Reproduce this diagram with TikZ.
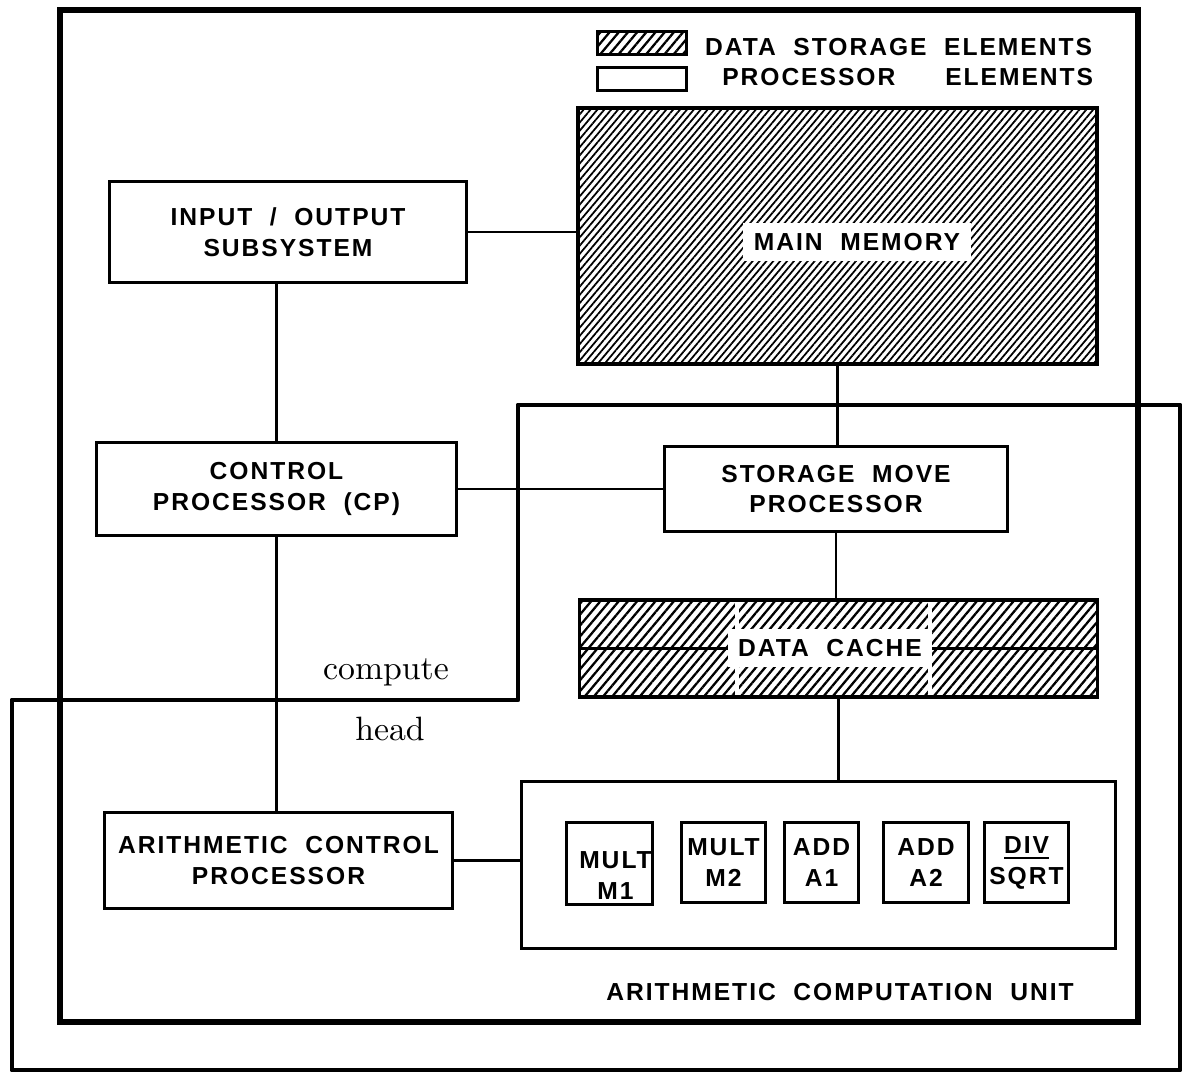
\documentclass[tikz,border=0pt]{standalone}
\usepackage{fontspec}
\usepackage{tikz}
\usetikzlibrary{positioning,patterns.meta}
\newfontfamily\blockfont[LetterSpace=8,WordSpace=2.0]{Liberation Sans}

\tikzset{
  unitfont/.style={font=\blockfont\bfseries\fontsize{7}{8.8}\selectfont, inner sep=0pt},
  procbox/.style={draw, line width=0.85pt, unitfont, align=center},
  storebox/.style={draw, line width=1.3pt, pattern={Lines[angle=50,distance=1.5pt,line width=0.5pt]}},
  cachebox/.style={draw, line width=0.9pt, pattern={Lines[angle=50,distance=2pt,line width=0.65pt]}},
  wire/.style={line width=0.6pt},
  frame/.style={line width=1.7pt},
}

\begin{document}
\begin{tikzpicture}[x=0.01cm, y=-0.01cm]
\useasboundingbox (0,0) rectangle (1188,1076);

% the two region outlines
\draw[frame] (60,10) rectangle (1138,1022);
\draw[line width=1.4pt, line join=round] (518,405) -- (1180,405) -- (1180,1070) -- (12,1070) -- (12,700) -- (518,700) -- cycle;

% legend
\node[cachebox, line width=0.85pt, minimum width=0.88cm, minimum height=0.14cm] (legdata) at (642,43) {};
\node[draw, line width=0.85pt, minimum width=0.88cm, minimum height=0.22cm] (legproc) at (642,79) {};
\node[unitfont, right=0.17cm of legdata, yshift=-0.04cm] (legdatatext) {DATA STORAGE ELEMENTS};
\node[unitfont, right=0.34cm of legproc, yshift=0.02cm] (legproctext) {PROCESSOR\hspace{0.5cm}ELEMENTS};

% storage elements
\node[storebox, minimum width=5.19cm, minimum height=2.56cm] (mm) at (837.5,236) {};
\node[unitfont, fill=white, inner xsep=3pt, inner ysep=3pt] (mmlabel) at (857,242) {MAIN MEMORY};

\node[cachebox, minimum width=5.17cm, minimum height=0.97cm] (cache) at (838.5,648.5) {};
\draw[white, line width=1pt] (737,602) -- (737,695);
\draw[white, line width=1pt] (930,602) -- (930,695);
\draw[line width=0.8pt] (cache.west) -- (cache.east);
\node[unitfont, fill=white, inner xsep=3pt, inner ysep=3pt] (cachelabel) at (830,648) {DATA CACHE};

% processor elements
\node[procbox, minimum width=3.56cm, minimum height=1.0cm] (io) at (288,232) {INPUT / OUTPUT\\SUBSYSTEM};
\node[procbox, minimum width=3.59cm, minimum height=0.92cm] (cp) at (276.5,489) {CONTROL\\PROCESSOR (CP)};
\node[procbox, minimum width=3.42cm, minimum height=0.84cm] (smp) at (836,489) {STORAGE MOVE\\PROCESSOR};
\node[procbox, minimum width=3.47cm, minimum height=0.95cm] (acp) at (278.5,860.5) {ARITHMETIC CONTROL\\PROCESSOR};
\node[draw, line width=0.85pt, minimum width=5.93cm, minimum height=1.66cm] (acubox) at (818.5,865) {};

% functional units
\node[draw, line width=0.85pt, minimum width=0.85cm, minimum height=0.81cm,
  label={[unitfont, align=center, xshift=0.06cm, yshift=-0.12cm]center:MULT\\M1}] (m1) at (609.5,863.5) {};
\node[procbox, minimum width=0.83cm, minimum height=0.79cm] (m2) at (723.5,862.5) {MULT\\M2};
\node[procbox, minimum width=0.73cm, minimum height=0.79cm] (a1) at (821.5,862.5) {ADD\\A1};
\node[procbox, minimum width=0.84cm, minimum height=0.79cm] (a2) at (926,862.5) {ADD\\A2};
\node[procbox, minimum width=0.83cm, minimum height=0.79cm] (ds) at (1026.5,862.5) {\underline{DIV}\\SQRT};

\node[unitfont] (acutitle) at (840,992) {ARITHMETIC COMPUTATION UNIT};

\node[font=\fontsize{9.6}{11}\selectfont] (compute) at (386,672) {compute};
\node[font=\fontsize{9.6}{11}\selectfont] (head) at (390,729) {head};

% connectors
\draw[wire] (io.east) -- (io.east -| mm.west);
\draw[wire] (cp.north) -- (cp.north |- io.south);
\draw[wire] (cp.east) -- (smp.west);
\draw[wire] (mm.south) -- (mm.south |- smp.north);
\draw[wire] (smp.south) -- (smp.south |- cache.north);
\draw[wire] (cache.south) -- (cache.south |- acubox.north);
\draw[wire] (cp.south) -- (cp.south |- acp.north);
\draw[wire] (acp.east) -- (acp.east -| acubox.west);
\end{tikzpicture}
\end{document}
